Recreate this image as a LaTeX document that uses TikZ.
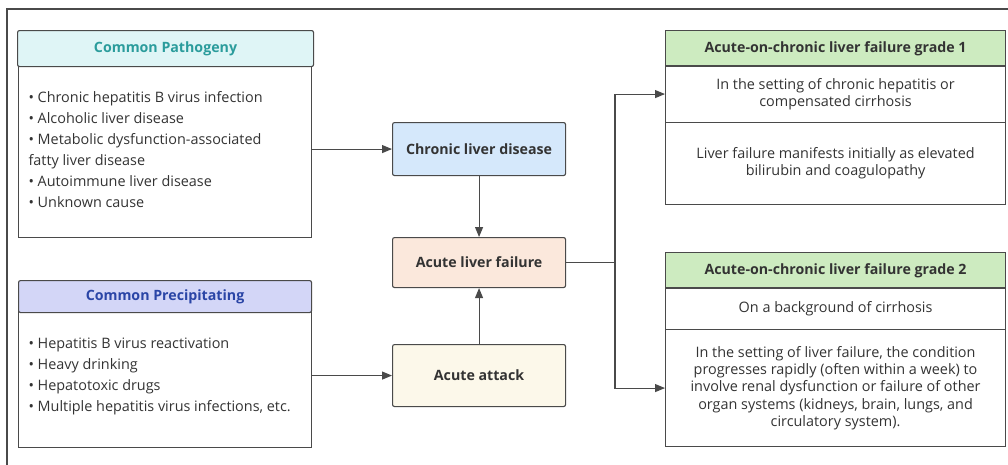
\documentclass[tikz,border=0pt]{standalone}
\usepackage{fontspec}
\setmainfont{Open Sans}
\usetikzlibrary{arrows.meta}
\definecolor{linec}{HTML}{4A4A4A}
\definecolor{txt}{HTML}{333333}
\definecolor{cyanfill}{HTML}{DFF5F6}
\definecolor{cyantxt}{HTML}{2B9C9C}
\definecolor{lavfill}{HTML}{D3D6F7}
\definecolor{lavtxt}{HTML}{2A45A6}
\definecolor{greenfill}{HTML}{CDEBC0}
\definecolor{bluefill}{HTML}{D5E8FB}
\definecolor{peachfill}{HTML}{FBE8DC}
\definecolor{creamfill}{HTML}{FCF8EA}
\begin{document}
\begin{tikzpicture}[x=1pt,y=-1pt,
  box/.style={draw=linec, line width=1.1pt, anchor=north west, inner sep=0pt, text=txt},
  hdr/.style={box, rounded corners=2pt, font=\fontsize{14.2}{17}\selectfont\bfseries},
  mid/.style={box, rounded corners=2pt, font=\fontsize{14.2}{17}\selectfont\bfseries},
  body/.style={box, font=\fontsize{14.4}{21}\selectfont},
  rbody/.style={box, align=center, font=\fontsize{14.4}{17.3}\selectfont},
  arr/.style={draw=linec, line width=1.1pt, -{Triangle[length=10pt,width=8pt]}},
  conn/.style={draw=linec, line width=1.1pt}]
\useasboundingbox (0,0) rectangle (1008,464);
\begin{scope}
\clip (0,0) rectangle (1008,464);
\draw[linec, line width=1.1pt] (7,9) rectangle (1030,490);
\end{scope}
% left column
\node[body, minimum width=293pt, minimum height=172pt] (pathbody) at (18,65) {};
\node[hdr, fill=cyanfill, text=cyantxt, minimum width=296pt, minimum height=36pt] (pathhdr) at (17,30) {Common Pathogeny};
\node[body, anchor=west, align=left, draw=none] (pathtxt) at (28,150) {• Chronic hepatitis B virus infection\\• Alcoholic liver disease\\• Metabolic dysfunction-associated\\fatty liver disease\\• Autoimmune liver disease\\• Unknown cause};
\node[body, minimum width=293pt, minimum height=136pt] (precbody) at (18,311) {};
\node[hdr, fill=lavfill, text=lavtxt, minimum width=293pt, minimum height=32pt] (prechdr) at (18,280) {Common Precipitating};
\node[body, anchor=west, align=left, draw=none] (prectxt) at (28,376) {• Hepatitis B virus reactivation\\• Heavy drinking\\• Hepatotoxic drugs\\• Multiple hepatitis virus infections, etc.};
% middle column
\node[mid, fill=bluefill, minimum width=173pt, minimum height=53pt] (chronic) at (392,122) {Chronic liver disease};
\node[mid, fill=peachfill, minimum width=173pt, minimum height=50pt] (fail) at (392,237) {Acute liver failure};
\node[mid, fill=creamfill, minimum width=173pt, minimum height=62pt] (attack) at (392,344) {Acute attack};
% right column
\node[box, fill=greenfill, minimum width=340pt, minimum height=36pt, font=\fontsize{14.2}{17}\selectfont\bfseries] (g1h) at (665,30) {Acute-on-chronic liver failure grade 1};
\node[rbody, minimum width=340pt, minimum height=57pt] (g1a) at (665,65) {In the setting of chronic hepatitis or\\compensated cirrhosis};
\node[rbody, minimum width=340pt, minimum height=82pt] (g1b) at (665,122) {Liver failure manifests initially as elevated\\bilirubin and coagulopathy};
\node[box, fill=greenfill, minimum width=340pt, minimum height=36pt, font=\fontsize{14.2}{17}\selectfont\bfseries] (g2h) at (665,252) {Acute-on-chronic liver failure grade 2};
\node[rbody, minimum width=340pt, minimum height=42pt] (g2a) at (665,287) {On a background of cirrhosis};
\node[rbody, minimum width=340pt, minimum height=117pt] (g2b) at (665,329) {In the setting of liver failure, the condition\\progresses rapidly (often within a week) to\\involve renal dysfunction or failure of other\\organ systems (kidneys, brain, lungs, and\\circulatory system).};
% connectors
\draw[arr] (pathbody.east |- chronic.west) -- (chronic.west);
\draw[arr] (precbody.east |- attack.west) -- (attack.west);
\draw[arr] (chronic.south) -- (fail.north);
\draw[arr] (attack.north) -- (fail.south);
\coordinate (jx) at (615,0);
\coordinate (j) at (fail.east -| jx);
\draw[conn] (fail.east) -- (j);
\draw[arr] (j) |- (g1a.west);
\draw[arr] (j) |- (g2b.west);
\end{tikzpicture}
\end{document}
